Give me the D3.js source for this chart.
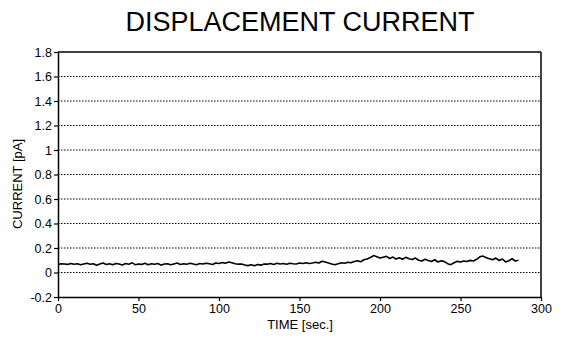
<!DOCTYPE html>
<html>
<head>
<meta charset="utf-8">
<script src="https://cdn.jsdelivr.net/npm/d3@7"></script>
<style>
  html, body { margin: 0; padding: 0; background: #fff; }
  svg { display: block; }
  text { font-family: "Liberation Sans", Arial, sans-serif; fill: #000; }
</style>
</head>
<body>
<svg id="chart" width="572" height="337"></svg>
<script>
const title = "DISPLACEMENT CURRENT";
const xLabel = "TIME [sec.]";
const yLabel = "CURRENT [pA]";
const xTicks = [0, 50, 100, 150, 200, 250, 300];
const yTicks = [-0.2, 0, 0.2, 0.4, 0.6, 0.8, 1, 1.2, 1.4, 1.6, 1.8];
const yTickLabels = ["-0.2", "0", "0.2", "0.4", "0.6", "0.8", "1", "1.2", "1.4", "1.6", "1.8"];
const gridTicks = [0, 0.2, 0.4, 0.6, 0.8, 1, 1.2, 1.4, 1.6];

const times = [0,2,4,6,8,10,12,14,16,18,20,22,24,26,28,30,32,34,36,38,40,42,44,46,48,50,52,54,56,58,
  60,62,64,66,68,70,72,74,76,78,80,82,84,86,88,90,92,94,96,98,100,102,104,106,108,110,112,114,116,118,
  120,122,124,126,128,130,132,134,136,138,140,142,144,146,148,150,152,154,156,158,160,162,164,166,168,170,172,174,176,178,
  180,182,184,186,188,190,192,194,196,198,200,202,204,206,208,210,212,214,216,218,220,222,224,226,228,230,232,234,236,238,
  240,242,244,246,248,250,252,254,256,258,260,262,264,266,268,270,272,274,276,278,280,282,284,286];
const current = [0.065,0.072,0.070,0.066,0.074,0.068,0.071,0.063,0.069,0.075,0.067,0.072,0.060,0.070,0.078,0.066,0.071,0.064,0.074,0.069,
  0.062,0.073,0.068,0.079,0.064,0.070,0.066,0.075,0.063,0.071,0.068,0.074,0.060,0.069,0.072,0.063,0.070,0.077,0.066,0.072,
  0.068,0.075,0.070,0.064,0.073,0.069,0.076,0.071,0.066,0.078,0.074,0.082,0.076,0.085,0.079,0.072,0.068,0.070,0.061,0.056,
  0.064,0.055,0.066,0.060,0.070,0.068,0.074,0.066,0.075,0.070,0.073,0.068,0.076,0.072,0.070,0.078,0.073,0.080,0.074,0.078,
  0.083,0.077,0.092,0.085,0.078,0.070,0.064,0.072,0.080,0.076,0.084,0.079,0.090,0.096,0.088,0.104,0.110,0.122,0.138,0.128,
  0.118,0.125,0.132,0.114,0.126,0.110,0.120,0.108,0.124,0.112,0.106,0.118,0.100,0.094,0.108,0.098,0.090,0.104,0.086,0.095,
  0.089,0.072,0.064,0.080,0.091,0.086,0.094,0.090,0.099,0.094,0.108,0.128,0.134,0.120,0.112,0.104,0.118,0.098,0.110,0.086,
  0.096,0.112,0.094,0.100];

const svg = d3.select("#chart");
const L = 58, R = 541, T = 52, B = 297;

const x = d3.scaleLinear().domain([0, 300]).range([L, R]);
const y = d3.scaleLinear().domain([-0.2, 1.8]).range([B, T]);

// title
svg.append("text").attr("x", 300).attr("y", 31).attr("text-anchor", "middle")
  .style("font-size", "27px").text(title);

// grid
svg.append("g").selectAll("line").data(gridTicks).join("line")
  .attr("x1", L).attr("x2", R).attr("y1", d => y(d)).attr("y2", d => y(d))
  .attr("stroke", "#000").attr("stroke-width", 1).attr("stroke-dasharray", "1.5,1.5");

// frame top/right
svg.append("line").attr("x1", L).attr("x2", R).attr("y1", T).attr("y2", T)
  .attr("stroke", "#000").attr("stroke-width", 1.5);
svg.append("line").attr("x1", R).attr("x2", R).attr("y1", T).attr("y2", B)
  .attr("stroke", "#000").attr("stroke-width", 1.5);

// axes
const yAxis = svg.append("g").attr("transform", `translate(${L},0)`)
  .call(d3.axisLeft(y).tickValues(yTicks).tickFormat((d, i) => yTickLabels[i])
    .tickSizeOuter(0).tickSizeInner(4).tickPadding(2));
const xAxis = svg.append("g").attr("transform", `translate(0,${B})`)
  .call(d3.axisBottom(x).tickValues(xTicks).tickFormat(d3.format("d")).tickSizeOuter(0).tickSizeInner(4).tickPadding(3));
[yAxis, xAxis].forEach(g => {
  g.select(".domain").attr("stroke", "#000").attr("stroke-width", 1.5);
  g.selectAll(".tick line").attr("stroke", "#000").attr("stroke-width", 1.2);
  g.selectAll("text").style("font-size", "12.5px").attr("fill", "#000")
    .style("font-family", "'Liberation Sans', Arial, sans-serif");
});

// data line
const line = d3.line().x((d, i) => x(times[i])).y(d => y(d));
svg.append("path").datum(current).attr("d", line)
  .attr("fill", "none").attr("stroke", "#000").attr("stroke-width", 1.6)
  .attr("stroke-linejoin", "round");

// axis labels
svg.append("text").attr("x", 300).attr("y", 329).attr("text-anchor", "middle")
  .style("font-size", "13px").text(xLabel);
svg.append("text").attr("transform", "translate(22,184) rotate(-90)").attr("text-anchor", "middle")
  .style("font-size", "13px").text(yLabel);
</script>
</body>
</html>
